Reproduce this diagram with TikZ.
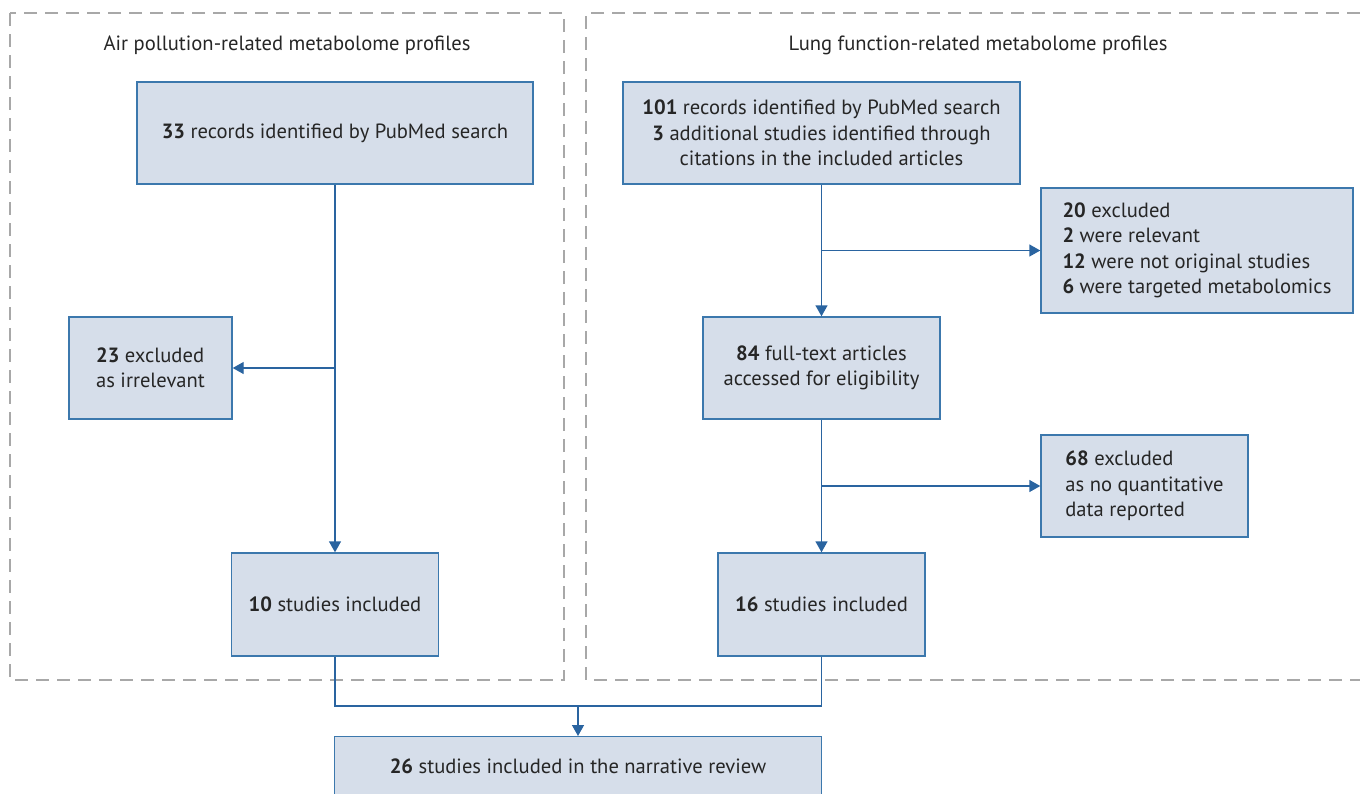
\documentclass[tikz,border=0pt]{standalone}
\usepackage{fontspec}
\setmainfont{PT Sans}
\usetikzlibrary{arrows.meta}
\definecolor{boxfill}{HTML}{D6DEEA}
\definecolor{boxline}{HTML}{3C78AD}
\definecolor{arrowc}{HTML}{2A64A0}
\definecolor{dashc}{HTML}{A8A8A8}
\definecolor{txt}{HTML}{262626}
\begin{document}
\begin{tikzpicture}[x=1pt,y=-1pt,
  font=\fontsize{20.6}{25.5}\selectfont,
  box/.style={draw=boxline, fill=boxfill, line width=1.4pt, inner sep=0pt, text=txt, align=center},
  lbox/.style={box, align=left},
  conn/.style={draw=arrowc, line width=1.4pt},
  arr/.style={conn, -{Triangle[width=12pt,length=11pt]}},
  region/.style={draw=dashc, line width=1.2pt, dash pattern=on 13pt off 8pt},
  title/.style={text=txt, inner sep=0pt}]
\useasboundingbox (0,0) rectangle (1360,793);
% regions
\draw[region] (10,13) rectangle (564,680);
\draw[region] (1360,13) -- (586,13) -- (586,680) -- (1360,680);
\node[title] (t1) at (287,45) {Air pollution-related metabolome profiles};
\node[title] (t2) at (978,45) {Lung function-related metabolome profiles};
% left column
\node[box, minimum width=396pt, minimum height=102pt] (a1) at (335,133) {\textbf{33} records identified by PubMed search};
\node[lbox, minimum width=163pt, minimum height=102pt] (a2) at (150.5,368) {\textbf{23} excluded\\as irrelevant};
\node[box, minimum width=207pt, minimum height=103pt] (a3) at (335,604.5) {\textbf{10} studies included};
% right column
\node[box, minimum width=397pt, minimum height=102pt] (b1) at (821.5,133) {\textbf{101} records identified by PubMed search\\\textbf{3} additional studies identified through\\citations in the included articles};
\node[lbox, minimum width=312pt, minimum height=125pt] (b2) at (1197,250.5) {\textbf{20} excluded\\\textbf{2} were relevant\\\textbf{12} were not original studies\\\textbf{6} were targeted metabolomics};
\node[box, minimum width=237pt, minimum height=102pt] (b3) at (821.5,368) {\textbf{84} full-text articles\\accessed for eligibility};
\node[lbox, minimum width=207pt, minimum height=102pt] (b4) at (1144.5,486) {\textbf{68} excluded\\as no quantitative\\data reported};
\node[box, minimum width=207pt, minimum height=103pt] (b5) at (821.5,604.5) {\textbf{16} studies included};
% bottom
\node[box, anchor=north, minimum width=487pt, minimum height=100pt] (c) at (578,736) {};
\node[text=txt, inner sep=0pt] (ct) at (578,766) {\textbf{26} studies included in the narrative review};
% connectors
\draw[arr] (a1.south) -- (a3.north);
\draw[arr] (a1.south |- a2.east) -- (a2.east);
\draw[arr] (b1.south) -- (b3.north);
\draw[arr] (b1.south |- b2.west) -- (b2.west);
\draw[arr] (b3.south) -- (b5.north);
\draw[arr] (b3.south |- b4.west) -- (b4.west);
\coordinate (j) at (578,706);
\draw[conn] (a3.south) |- (j) -| (b5.south);
\draw[arr] (j) -- (c.north);
\end{tikzpicture}
\end{document}
